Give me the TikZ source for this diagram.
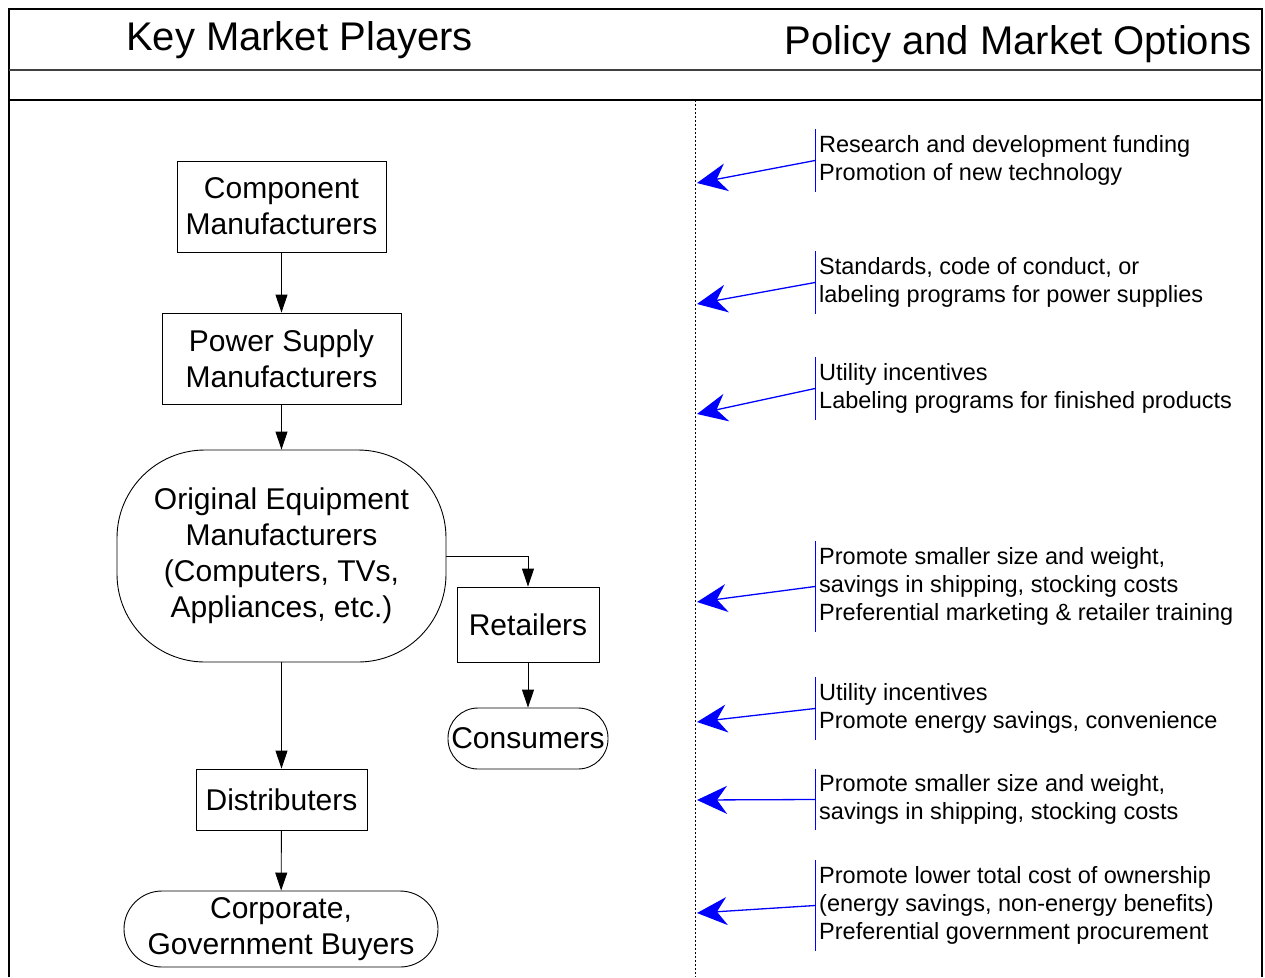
\documentclass[tikz,border=0pt]{standalone}
\usepackage{fontspec}
\setmainfont{Liberation Sans}
\usetikzlibrary{arrows.meta,positioning}

\definecolor{optblue}{RGB}{0,0,255}

\tikzset{
  player/.style={draw=black, line width=0.9pt, align=center, inner sep=0pt,
    font=\fontsize{30}{36}\selectfont},
  boxnode/.style={player, rectangle},
  pillnode/.style={player, rectangle},
  flow/.style={draw=black, line width=0.9pt, -{Triangle[length=18pt,width=12pt]}},
  option/.style={anchor=west, align=left, inner xsep=4pt, inner ysep=0pt,
    font=\fontsize{23.5}{28.3}\selectfont},
  optbar/.style={draw=optblue, line width=1pt},
  push/.style={draw=optblue, line width=1.3pt,
    -{Stealth[length=30pt,width=28pt,inset=10pt]}},
  frame/.style={draw=black, line width=1.4pt},
  title/.style={anchor=base, font=\fontsize{40}{44}\selectfont},
}

\begin{document}
\begin{tikzpicture}[x=1pt,y=-1pt]
\useasboundingbox (0,0) rectangle (1265,977);

% page frame and header band
\draw[frame] (9,977) -- (9,9) -- (1262,9) -- (1262,977);
\draw[draw=black!75, line width=1.4pt] (9,70) -- (1262,70);
\draw[frame] (9,100) -- (1262,100);
\draw[black, line width=0.9pt, dash pattern=on 2pt off 2pt] (695,100) -- (695,977);

\node[title] (hkey) at (299.5,50) {Key Market Players};
\node[title] (hpol) at (1018,54) {Policy and Market Options};

% market players
\node[boxnode, minimum width=209pt, minimum height=91pt] (comp) at (281.5,206.5)
  {Component\\Manufacturers};
\node[boxnode, minimum width=239pt, minimum height=91pt] (psu) at (281.5,358.5)
  {Power Supply\\Manufacturers};
\node[pillnode, rounded corners=88pt, minimum width=329pt, minimum height=212pt] (oem) at (281.5,556)
  {Original Equipment\\Manufacturers\\(Computers, TVs,\\Appliances, etc.)};
\node[boxnode, minimum width=142pt, minimum height=75pt] (ret) at (528,624.5) {Retailers};
\node[pillnode, rounded corners=30pt, minimum width=160pt, minimum height=61pt] (cons) at (528,738.5) {Consumers};
\node[boxnode, minimum width=171pt, minimum height=61pt] (dist) at (281.5,799.5) {Distributers};
\node[pillnode, rounded corners=38pt, minimum width=314pt, minimum height=76pt] (corp) at (281,929)
  {Corporate,\\Government Buyers};

\draw[flow] (comp) -- (psu);
\draw[flow] (psu) -- (oem);
\draw[flow] (oem) -- (dist);
\draw[flow] (dist) -- (corp);
\draw[flow] (oem.east) -| (ret.north);
\draw[flow] (ret) -- (cons);

% policy and market options
\node[option, minimum height=63pt] (o1) at (815,160.5)
  {Research and development funding\\Promotion of new technology};
\node[option, minimum height=63pt] (o2) at (815,282.5)
  {Standards, code of conduct, or\\labeling programs for power supplies};
\node[option, minimum height=63pt] (o3) at (815,388.5)
  {Utility incentives\\Labeling programs for finished products};
\node[option, minimum height=91pt] (o4) at (815,586.5)
  {Promote smaller size and weight,\\savings in shipping, stocking costs\\Preferential marketing \& retailer training};
\node[option, minimum height=63pt] (o5) at (815,708.5)
  {Utility incentives\\Promote energy savings, convenience};
\node[option, minimum height=61pt] (o6) at (815,799.5)
  {Promote smaller size and weight,\\savings in shipping, stocking costs};
\node[option, minimum height=91pt] (o7) at (815,905.5)
  {Promote lower total cost of ownership\\(energy savings, non-energy benefits)\\Preferential government procurement};

\foreach \o in {o1,o2,o3,o4,o5,o6,o7}
  \draw[optbar] (\o.north west) -- (\o.south west);

% arrow tips resting on the divider
\coordinate (t1) at (697,183);
\coordinate (t2) at (697,304);
\coordinate (t3) at (697,414);
\coordinate (t4) at (697,602);
\coordinate (t5) at (697,722);
\coordinate (t6) at (697,800);
\coordinate (t7) at (697,913);

\foreach \o/\t in {o1/t1,o2/t2,o3/t3,o4/t4,o5/t5,o6/t6,o7/t7}
  \draw[push] (\o.west) -- (\t);
\end{tikzpicture}
\end{document}
